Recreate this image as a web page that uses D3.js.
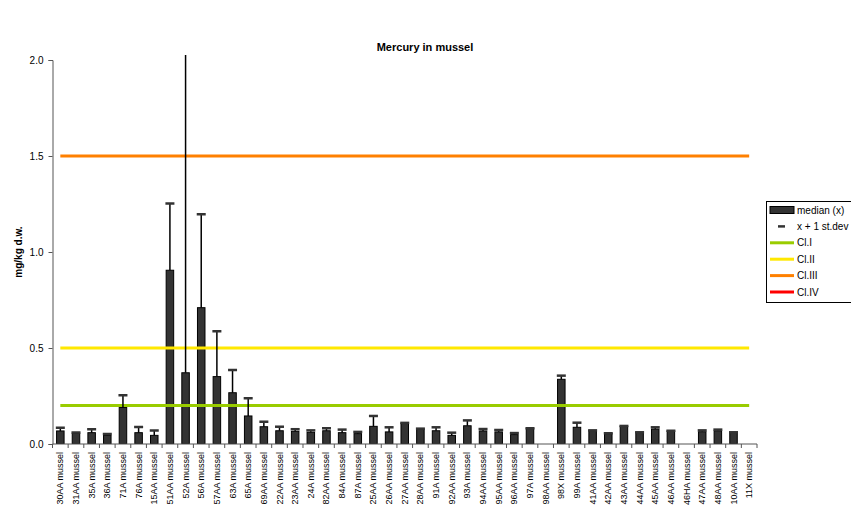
<!DOCTYPE html>
<html><head><meta charset="utf-8">
<script src="https://cdn.jsdelivr.net/npm/d3@7"></script>
<style>body{margin:0;background:#fff;} svg{display:block;font-family:"Liberation Sans",Arial,sans-serif;}</style>
</head><body><svg id="c" width="851" height="505"></svg>
<script>
const categories = ["30AA mussel","31AA mussel","35A mussel","36A mussel","71A mussel","76A mussel","15AA mussel","51AA mussel","52A mussel","56A mussel","57AA mussel","63A mussel","65A mussel","69AA mussel","22AA mussel","23AA mussel","24A mussel","82AA mussel","84A mussel","87A mussel","25AA mussel","26AA mussel","27AA mussel","28AA mussel","91A mussel","92AA mussel","93A mussel","94AA mussel","95AA mussel","96AA mussel","97A mussel","98AA mussel","98X mussel","99A mussel","41AA mussel","42AA mussel","43AA mussel","44AA mussel","45AA mussel","46AA mussel","46HA mussel","47AA mussel","48AA mussel","10AA mussel","11X mussel"];
const median = [0.068,0.056,0.059,0.045,0.19,0.059,0.045,0.905,0.371,0.71,0.351,0.267,0.146,0.09,0.069,0.066,0.061,0.069,0.059,0.054,0.092,0.063,0.108,0.078,0.069,0.045,0.095,0.068,0.063,0.049,0.082,null,0.337,0.087,0.071,0.054,0.092,0.061,0.078,0.068,null,0.064,0.069,0.061,null];
const plusStdev = [0.085,0.06,0.077,0.052,0.254,0.089,0.07,1.252,2.6,1.196,0.587,0.385,0.238,0.116,0.09,0.077,0.071,0.082,0.075,0.063,0.146,0.087,0.11,0.08,0.087,0.059,0.123,0.078,0.073,0.057,0.082,null,0.356,0.111,0.071,0.056,0.094,0.061,0.087,0.069,null,0.071,0.075,0.061,null];
const classNames = ["Cl.I","Cl.II","Cl.III","Cl.IV"];
const classLimits = [0.2, 0.5, 1.5, 4.0];
const classColors = ["#99CC00","#FFE800","#FF8000","#FF0000"];
const yTicks = [0.0, 0.5, 1.0, 1.5, 2.0];

const svg = d3.select("#c");
const L = 52.5, R = 757, T = 60, B = 444;
const x = d3.scaleBand().domain(categories).range([L, R]).paddingInner(0.52).paddingOuter(0.26);
const xb = d3.scaleBand().domain(categories).range([L, R]);
const y = d3.scaleLinear().domain([0, 2]).range([B, T]);

svg.append("defs").append("clipPath").attr("id","clip")
  .append("rect").attr("x", L).attr("y", T - 5).attr("width", R - L + 5).attr("height", B - T + 5);

// title
svg.append("text").attr("x", 425).attr("y", 51).attr("text-anchor","middle")
  .attr("font-size", 11).attr("font-weight","bold").text("Mercury in mussel");
// y label
svg.append("text").attr("transform","translate(22,252) rotate(-90)").attr("text-anchor","middle")
  .attr("font-size", 10).attr("font-weight","bold").text("mg/kg d.w.");

// y axis
const ya = svg.append("g").attr("transform",`translate(${L},0)`)
  .call(d3.axisLeft(y).tickValues(yTicks).tickFormat(d3.format(".1f")).tickSize(4).tickPadding(5));
ya.select(".domain").attr("stroke","#555");
ya.selectAll(".tick line").attr("stroke","#555");
ya.selectAll(".tick text").attr("font-size", 10).attr("font-family","Liberation Sans, Arial, sans-serif").attr("fill","#000");

const plot = svg.append("g").attr("clip-path","url(#clip)");

// bars
plot.selectAll("rect.bar").data(categories.map((c,i)=>({c, v: median[i], u: plusStdev[i]})).filter(d=>d.v!=null))
  .join("rect").attr("class","bar")
  .attr("x", d=>x(d.c)).attr("width", x.bandwidth())
  .attr("y", d=>y(d.v)).attr("height", d=>B - y(d.v))
  .attr("fill","#333").attr("stroke","#000").attr("stroke-width",1);

// class lines
const c0 = xb(categories[0]) + xb.bandwidth()/2;
const c1 = xb(categories[categories.length-1]) + xb.bandwidth()/2;
plot.selectAll("line.cl").data(classLimits).join("line").attr("class","cl")
  .attr("x1", c0).attr("x2", c1).attr("y1", d=>y(d)).attr("y2", d=>y(d))
  .attr("stroke", (d,i)=>classColors[i]).attr("stroke-width", 3);

// error bars
const eb = categories.map((c,i)=>({c, v: median[i], u: plusStdev[i]})).filter(d=>d.v!=null && d.u!=null);
plot.selectAll("line.err").data(eb).join("line").attr("class","err")
  .attr("x1", d=>xb(d.c)+xb.bandwidth()/2).attr("x2", d=>xb(d.c)+xb.bandwidth()/2)
  .attr("y1", d=>y(d.v)).attr("y2", d=>y(d.u)).attr("stroke","#000").attr("stroke-width",1.5);
plot.selectAll("line.cap").data(eb).join("line").attr("class","cap")
  .attr("x1", d=>xb(d.c)+xb.bandwidth()/2-4.5).attr("x2", d=>xb(d.c)+xb.bandwidth()/2+4.5)
  .attr("y1", d=>y(d.u)).attr("y2", d=>y(d.u)).attr("stroke","#333").attr("stroke-width",2.5);

// x axis
svg.append("line").attr("x1", L).attr("x2", R).attr("y1", B).attr("y2", B).attr("stroke","#555");
svg.selectAll("line.xt").data(categories.concat([null])).join("line").attr("class","xt")
  .attr("x1",(d,i)=>L + i*xb.step()).attr("x2",(d,i)=>L + i*xb.step())
  .attr("y1", B).attr("y2", B+4).attr("stroke","#555");
svg.selectAll("text.xl").data(categories).join("text").attr("class","xl")
  .attr("transform", d=>`translate(${xb(d)+xb.bandwidth()/2+3},${B+8}) rotate(-90)`)
  .attr("text-anchor","end").attr("font-size", 9).text(d=>d);

// legend
const lg = svg.append("g");
lg.append("rect").attr("x", 766.5).attr("y", 201.5).attr("width", 100).attr("height", 101)
  .attr("fill","#fff").attr("stroke","#000");
const items = [{t:"median (x)", k:"bar"},{t:"x + 1 st.dev", k:"dash"}]
  .concat(classNames.map((n,i)=>({t:n, k:"line", col:classColors[i]})));
items.forEach((it,i)=>{
  const yy = 210 + i*16.4;
  if (it.k==="bar") lg.append("rect").attr("x",770).attr("y",yy-3.5).attr("width",24).attr("height",7).attr("fill","#333").attr("stroke","#000");
  else if (it.k==="dash") lg.append("line").attr("x1",778).attr("x2",785).attr("y1",yy).attr("y2",yy).attr("stroke","#333").attr("stroke-width",2.5);
  else lg.append("line").attr("x1",770).attr("x2",794).attr("y1",yy).attr("y2",yy).attr("stroke",it.col).attr("stroke-width",3);
  lg.append("text").attr("x",797).attr("y",yy+3.5).attr("font-size",10).text(it.t);
});
</script></body></html>
